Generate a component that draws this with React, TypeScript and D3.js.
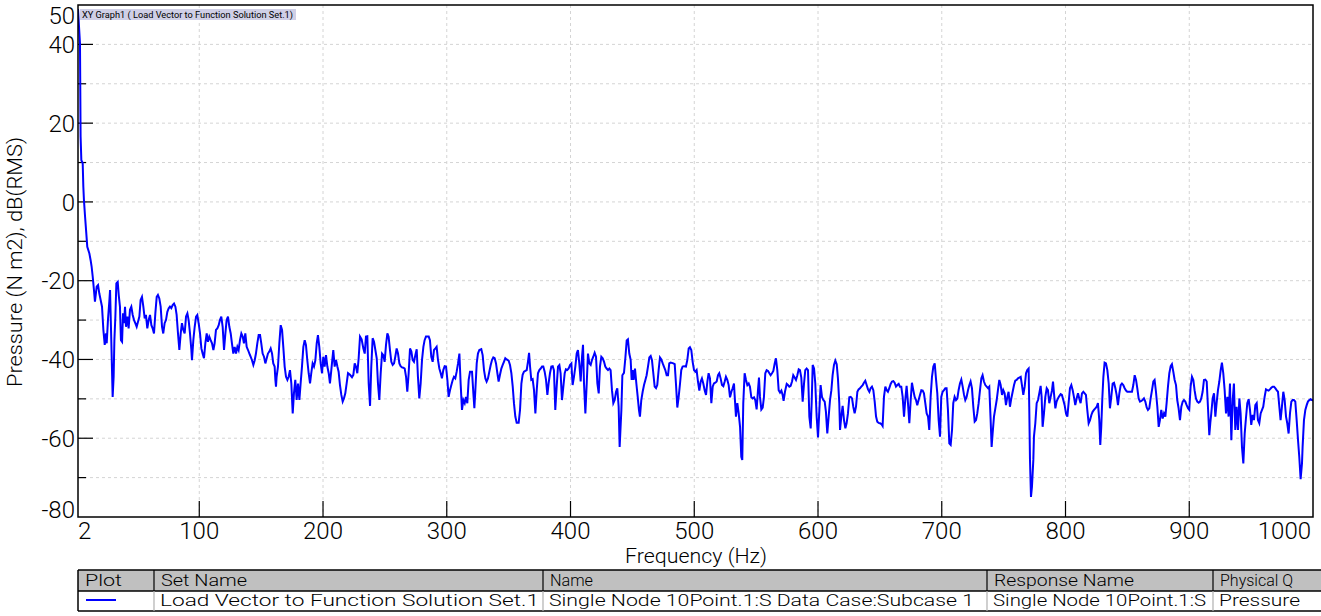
import React from 'react';
import * as d3 from 'd3';

// [frequency Hz, pressure dB(RMS)]
const spectrum: [number, number][] = [
[2,49],[3.6,40.3],[4.1,16.6],[4.7,10.6],[5.8,9.8],[6.3,3.9],[6.8,0.5],[7.7,-3.7],[8.5,-7.1],[9.5,-11.4],[11.2,-13.1],[12.2,-14.8],[13,-16.4],[13.9,-19],[14.9,-22.4],[15.7,-25.3],[17.1,-21.5],[18.2,-21.1],[19.2,-23.2],[20.3,-24.9],[21.4,-26.6],[22.5,-32.5],[23.6,-36.3],[24.6,-33.4],[25.2,-35.9],[26.2,-30],[27.3,-25.3],[27.9,-22.4],[28.9,-35.1],[30,-49.5],[30.8,-44.4],[31.4,-35.1],[32.2,-29.1],[33,-20.7],[34.1,-20.3],[34.9,-23.6],[35.9,-26.6],[36.7,-35.1],[37.6,-35.5],[38.4,-28.3],[39.2,-30.8],[40,-26.6],[40.8,-31.7],[41.9,-29.1],[42.9,-32.1],[44,-27.4],[45.1,-26.6],[46.2,-28.7],[47.3,-30],[48.3,-30.8],[49.4,-31.7],[50.5,-30.4],[51.6,-29.1],[52.6,-24.9],[53.7,-24.1],[54.8,-26.6],[55.9,-29.6],[56.9,-28.7],[58,-32.1],[59.1,-30],[60.2,-28.7],[61.3,-31.3],[62.3,-32.1],[63.4,-33.4],[64.5,-28.3],[65.6,-24.1],[66.6,-23.6],[67.7,-24.5],[68.8,-26.6],[69.9,-31.7],[70.9,-33.4],[72,-30.8],[73.1,-30],[74.2,-27.9],[75.3,-27],[76.3,-26.6],[77.4,-27],[78.5,-26.2],[79.6,-25.8],[80.7,-26.6],[81.7,-28.7],[82.8,-33.4],[83.9,-37.6],[85,-33.4],[86,-30.8],[87.1,-32.5],[88.2,-33.4],[89.3,-29.1],[90.4,-28.3],[91.4,-30],[92.5,-33.4],[93.6,-37.6],[94.1,-40.2],[95.2,-35.1],[96.3,-31.7],[97.4,-29.1],[98.4,-28.7],[99.5,-30.8],[100.6,-33.4],[101.7,-37.2],[102.7,-38.5],[103.8,-39.7],[104.9,-35.9],[106,-33.4],[107,-35.5],[108.1,-34.2],[109.2,-35.1],[110.3,-35.9],[111.4,-37.6],[112.4,-35.9],[113.5,-32.5],[114.6,-32.1],[115.7,-31.3],[116.7,-30],[117.8,-29.1],[118.9,-31.7],[120,-37.6],[121.1,-33.4],[122.1,-30],[123.2,-29.1],[124.3,-31.7],[125.4,-33.4],[126.4,-35.9],[127.5,-38.5],[128.6,-36.8],[129.7,-38.5],[130.8,-36.8],[131.8,-37.6],[132.9,-35.1],[134,-33.4],[135.1,-34.2],[136.1,-35.9],[137.2,-33.4],[138.3,-36.8],[139.4,-37.6],[140.5,-38.5],[141.5,-39.3],[142.6,-40.2],[143.7,-41.4],[144.8,-40.2],[145.8,-38.5],[146.9,-35.9],[148,-33.8],[149.1,-33.8],[150.1,-35.9],[151.2,-38.5],[152.3,-39.3],[153.4,-41],[154.5,-39.7],[155.5,-38.5],[156.6,-38],[157.7,-37.2],[158.8,-38.5],[159.8,-41],[160.9,-41.8],[161.5,-45.2],[162,-46.9],[162.5,-44.4],[163.6,-41.8],[164.7,-35.9],[165.8,-31.3],[166.9,-32.5],[167.9,-36.8],[169,-41.8],[170.1,-44.4],[171.2,-45.2],[172.2,-44.4],[173.3,-42.7],[174.4,-46.1],[175.5,-53.7],[176.5,-48.6],[177.6,-45.2],[178.7,-50.3],[179.8,-46.1],[180.9,-50.3],[181.9,-46.1],[183,-41.8],[184.1,-36.8],[185.2,-35.1],[186.2,-36.3],[187.3,-40.2],[188.4,-43.5],[189.5,-46.1],[190.5,-43.5],[191.6,-41],[192.7,-41.8],[193.8,-40.2],[194.9,-35.9],[195.9,-33.8],[197,-36.8],[198.1,-41],[199.2,-43.5],[200.2,-39.3],[201.3,-41.8],[202.4,-38.9],[203.5,-41.8],[204.6,-43.5],
[205.6,-46.1],[206.7,-42.7],[207.5,-40.1],[208.3,-37.6],[209.4,-41.8],[210.5,-40.1],[211.6,-41.8],[212.6,-43.1],[213.7,-46.5],[214.8,-49],[215.9,-50.7],[216.9,-49.9],[218,-48.6],[219.1,-46.1],[220.2,-43.5],[221.8,-43.9],[223.4,-44.5],[224.5,-43.9],[225.6,-41],[226.6,-41.8],[227.7,-43.5],[228.8,-39.7],[229.9,-34.2],[231.2,-34.9],[232.6,-37.2],[233.7,-38.5],[234.7,-34.2],[235.8,-34.1],[236.9,-46.1],[238,-51.8],[239,-41.8],[240.1,-34.6],[241.2,-35.5],[242.3,-37.6],[243.4,-39.7],[244.4,-46.1],[245.5,-50.3],[246.6,-43.5],[247.7,-38.5],[248.7,-38.9],[249.8,-40.6],[250.9,-36.3],[252,-33.4],[253,-34.2],[254.1,-37.6],[255.2,-40.6],[256.3,-41.4],[257.4,-41],[258.4,-39.3],[259.5,-37.2],[260.6,-38.5],[261.7,-41],[262.7,-41.7],[263.8,-42],[264.9,-42.1],[266,-42.3],[267.1,-44.4],[268.1,-48.2],[269.2,-43.5],[270.3,-37.2],[271.4,-38],[272.4,-40.1],[273.5,-40.6],[274.6,-38.9],[275.7,-37.4],[276.7,-44.4],[277.8,-49.9],[278.9,-46.1],[280,-40.1],[281.1,-36.8],[282.1,-35.1],[283.2,-34.2],[285.4,-34.2],[286.4,-35.1],[287.5,-39.3],[288.6,-40.6],[289.7,-37.6],[290.8,-37.2],[291.8,-36.8],[292.9,-40.1],[294,-42.3],[295.1,-43.5],[296.1,-44.8],[297.2,-42.7],[298.3,-41.7],[299.4,-41.8],[300.5,-45.2],[301.5,-49.5],[302.6,-47.8],[303.7,-46.5],[304.8,-45.2],[305.8,-44.4],[306.9,-44.8],[308,-43.1],[309.1,-41],[310.2,-38.5],[311.2,-46.1],[312.3,-52.8],[313.4,-50.3],[314.5,-51.1],[315.5,-49.5],[316.6,-51.1],[317.7,-45.2],[318.8,-43.1],[320.4,-43.1],[321.5,-48.6],[322.3,-52.4],[323.1,-47.8],[324.2,-41],[325.2,-38.5],[326.3,-37.6],[327.9,-37.4],[329,-38.9],[330.1,-42.7],[331.2,-44.8],[332.2,-45.6],[333.3,-44.8],[334.4,-43.1],[335.5,-41.4],[336.6,-40.1],[337.6,-39.5],[338.7,-39.7],[339.8,-41],[340.9,-43.5],[341.9,-45.6],[343,-43.9],[344.1,-42.3],[345.2,-41.4],[346.2,-40.6],[347.3,-39.7],[348.4,-40],[350,-40.3],[351.1,-41.4],[352.2,-43.5],[353.3,-46.9],[354.3,-51.1],[355.4,-54.5],[356.5,-56.1],[358.1,-56.1],[359.2,-52.8],[360.3,-46.1],[361.3,-43.9],[362.4,-43.1],[363.5,-42.9],[364.6,-42.7],[365.6,-40.6],[366.5,-38.3],[367.3,-41.8],[368.3,-45.2],[369.4,-45],[370.5,-47.8],[371.6,-53.7],[372.7,-47.8],[373.7,-43.5],[374.8,-42.7],[375.9,-42.3],[377,-41.8],[378,-41.8],[379.1,-43.1],[380.2,-45.2],[381.3,-49],[382.3,-46.1],[383.4,-43.5],[384.5,-41.8],[385.6,-41.7],[386.6,-42.7],[387.7,-52.8],[388.8,-46.9],[389.9,-41.8],[391,-41.4],[392,-43.5],[393.1,-50.3],[394.2,-46.9],[395.3,-43.5],[396.3,-42.5],[397.4,-42.7],[398.5,-42.3],[399.6,-41.4],[400.7,-41],[401.7,-46.5],[402.8,-44.4],[403.9,-41.8],[405,-38.5],[406,-37.6],[407.1,-41],[408.2,-45.6],[409.3,-39.3],[410.1,-36.3],[410.9,-46.1],[412,-53.7],[413.1,-46.1],[414.1,-38.5],[415.2,-41],[416.3,-41.4],[417.4,-40.1],[418.4,-39.3],[419.5,-38.3],[420.6,-39.3],[421.7,-46.1],[422.8,-48.6],[423.8,-41.8],[424.9,-39.3],[426,-39.7],[427.1,-40.6],[428.1,-41.8],[429.2,-42.3],[430.3,-42.7],[431.4,-42.3],[432.4,-42.7],[433.5,-47.8],[434.6,-51.1],[435.7,-50.3],[436.8,-48.2],[437.8,-47.3],[438.9,-52],[439.7,-62.2],
[441.1,-52.8],[441.9,-44],[443.2,-43.4],[444.3,-39.7],[445.4,-35.2],[446.4,-34.9],[447.5,-38.5],[448.6,-40.1],[449.4,-45.2],[450.2,-42.7],[451,-45.2],[452.1,-42.3],[453.2,-46.1],[454.3,-49.5],[455.3,-52.8],[456.1,-54.5],[457.2,-50.3],[458.3,-48.2],[459.4,-46.5],[460.5,-45.2],[461.5,-44],[462.6,-41.8],[463.7,-39.5],[464.8,-39.1],[465.8,-40.1],[466.9,-43.5],[468,-46.9],[469.1,-47.3],[470.1,-46.5],[471.2,-42.7],[472.3,-39.5],[473.4,-40],[474.5,-41],[475.5,-41.8],[476.6,-42.7],[477.7,-44],[478.8,-44],[479.8,-41],[480.9,-40.8],[483.1,-41],[484.2,-41.2],[485.2,-46.1],[486.3,-52.2],[487.4,-49.5],[488.5,-46.1],[489.5,-42.7],[490.6,-41.8],[491.7,-41.7],[493.3,-41.8],[494.4,-40.1],[495.5,-37.2],[496.5,-36.9],[497.6,-37.6],[498.7,-40.6],[499.8,-42.7],[500.9,-43.1],[501.9,-42.7],[503,-45.6],[504.1,-47.9],[505.2,-45.6],[506.2,-44.8],[507.3,-46.1],[508.4,-47.8],[509.5,-49],[510.6,-45.6],[511.6,-43.5],[512.7,-44.8],[513.8,-51.1],[514.9,-46.9],[515.9,-46.1],[517,-45.9],[518.1,-45.6],[519.2,-44],[520.2,-43.5],[521.3,-44.8],[522.4,-46.5],[523.5,-46.8],[524.6,-45.6],[525.6,-44.4],[526.7,-45.2],[527.8,-46.5],[528.9,-49.6],[530,-48.2],[531,-47.3],[532.1,-46.1],[532.6,-49],[533.7,-54.5],[534.8,-51.1],[535.9,-53.7],[537,-57.1],[538,-64.7],[538.8,-65.5],[539.6,-51.1],[540.7,-43.5],[541.8,-45.2],[542.9,-46.5],[544,-46.1],[545,-46.9],[546.1,-49.6],[547.2,-49.9],[548.3,-49.6],[549.3,-50.3],[550.4,-52.7],[551.5,-47.8],[552.3,-44.6],[553.1,-49.5],[554.2,-52.7],[555.3,-52.2],[556.3,-49.6],[557.4,-43.5],[558.5,-42.7],[559.6,-42.9],[560.7,-43.5],[561.7,-44],[562.8,-43.5],[563.9,-42.9],[565,-41],[566,-39.7],[567.1,-42.7],[568.2,-47.8],[569.3,-48.4],[570.4,-47.9],[571.4,-49],[572.2,-50.5],[573.3,-48.2],[574.7,-46.2],[575.7,-46.5],[576.8,-46.9],[577.9,-46.7],[579,-45.6],[580,-44],[581.1,-44.6],[582.2,-45.2],[583.3,-44],[584.4,-42.5],[585.4,-42.7],[586.5,-44.6],[587.6,-50.7],[588.7,-46.1],[589.7,-42.7],[590.8,-42.3],[591.9,-42.7],[593,-54.5],[594.1,-57.5],[594.9,-50.7],[595.7,-41.4],[596.8,-42.3],[597.8,-46.1],[598.9,-54.5],[600,-59.8],[601.1,-52.8],[602.1,-46.5],[603.2,-49.5],[604.3,-50.3],[605.4,-50.7],[606.4,-53.3],[607.5,-58.8],[608.6,-54.5],[609.7,-50.3],[610.8,-47.8],[611.8,-44],[612.9,-41.4],[614,-40.3],[615.1,-41.2],[616.1,-44.8],[617.2,-51.1],[617.8,-57.9],[618.8,-54.5],[619.9,-51.8],[621,-55.4],[622.1,-57.5],[623.1,-56.2],[624.2,-53.7],[625.3,-49.6],[626.4,-49.5],[627.5,-49.9],[628.5,-52],[629.6,-53.7],[630.7,-52],[631.8,-48.2],[632.8,-47.6],[633.9,-47.3],[635,-46.9],[636.1,-46.5],[637.1,-45.9],[638.2,-45.4],[639.3,-46.5],[640.4,-47.6],[641.5,-48.2],[642.5,-47.3],[643.6,-46.9],[644.7,-47.8],[645.8,-50.7],[646.9,-54.5],[647.9,-55.8],[649,-56.1],[650.1,-56.2],[651.2,-56.4],[652.2,-56.9],[653.3,-49.5],[654.4,-46.9],[655.5,-47.8],[656.5,-48.2],[657.6,-47.3],[658.7,-46.2],[659.8,-45.6],[660.9,-45.5],[661.9,-45.9],[663,-46.9],[664.1,-46.5],[665.2,-46.2],[666.2,-46.9],
[667.3,-46.9],[668.4,-49.5],[669.5,-54.5],[670.5,-50.3],[671.6,-46.7],[672.7,-51.1],[673.8,-56.2],[674.9,-50.3],[675.9,-45.9],[677,-47.8],[678.1,-49.5],[679.2,-50.3],[680.2,-51.6],[681.3,-50.3],[682.4,-49],[683.5,-47.8],[684.6,-47.9],[685.6,-48.6],[686.7,-51.1],[687.8,-53.7],[688.9,-54.5],[689.9,-57.9],[691,-49.5],[692.1,-44.4],[693.2,-41.8],[694.3,-41],[695.3,-44.8],[696.4,-48.6],[697.5,-55.4],[698.6,-59.6],[699.6,-49.5],[700.7,-48.2],[701.8,-47.8],[702.9,-47.3],[703.9,-47.3],[705,-52.8],[706.1,-61.3],[707.2,-61.7],[708.3,-57.9],[709.3,-51.1],[710.4,-49.5],[711.5,-50.3],[712.6,-49.9],[713.6,-47.8],[714.7,-46.1],[715.8,-45.1],[716.9,-46.9],[718,-49],[719,-50.3],[720.1,-49.5],[721.2,-47.8],[722.3,-46.5],[723.3,-45.6],[724.4,-47.3],[725.5,-52],[726.6,-55.8],[727.7,-55.4],[728.7,-53.7],[729.8,-51.1],[730.9,-47.8],[732,-44.8],[733,-44],[734.1,-45.6],[735.2,-46.5],[736.3,-46.9],[737.4,-47.3],[738.4,-46.9],[739.5,-55.4],[740.3,-62.2],[741.1,-58.8],[742.2,-54.5],[743.3,-52.4],[744.4,-50.3],[745.4,-47.8],[746.5,-45.2],[747.6,-46.5],[748.7,-49],[749.7,-47.8],[750.8,-48.6],[751.9,-51.6],[753,-49.5],[754,-48.2],[755.1,-52],[756.2,-49.9],[757.3,-48.2],[758.4,-46.5],[759.4,-45.4],[760.5,-45.2],[761.6,-44.8],[762.7,-44.6],[763.8,-44.4],[764.8,-46.5],[765.9,-49],[767,-46.9],[768.1,-43.5],[769.1,-42.7],[770.2,-42.3],[770.7,-52],[771.3,-65.5],[772.1,-74.9],[772.9,-72.3],[774,-65.5],[774.5,-59.6],[775.6,-56.2],[776.7,-51.1],[777.8,-50.3],[778.8,-48.6],[779.9,-46.7],[780.7,-49.5],[781.5,-57.1],[782.6,-53.7],[783.7,-49.5],[784.8,-47.3],[785.8,-47.8],[786.9,-51.1],[788,-49.5],[789.1,-47.8],[789.9,-45.6],[790.7,-48.6],[791.8,-52.4],[792.8,-50.7],[793.9,-49.9],[795,-49.3],[796.1,-48.8],[797.1,-49],[798.2,-50.3],[799.3,-51.6],[800.4,-53.7],[801.5,-54.5],[802.5,-51.1],[803.6,-47.3],[804.7,-46.5],[805.8,-47.8],[806.8,-49.5],[807.9,-51.6],[809,-49.9],[810.1,-48.6],[811.1,-49.9],[812.2,-51.1],[813.3,-48.6],[814.4,-48.2],[815.5,-48.6],[816.5,-49],[817.6,-52.8],[818.7,-56.2],[819.8,-55.4],[820.9,-54.1],[821.9,-53.3],[823,-52.8],[824.1,-52.4],[825.2,-52],[826.2,-51.1],[827.3,-55.4],[828.1,-61.7],[828.9,-57.1],[829.7,-50.3],[830.6,-44.4],[831.6,-40.8],[832.7,-41],[833.8,-42.7],[834.9,-46.1],[835.9,-52.4],[837,-49.5],[838.1,-46.1],[839.2,-45.9],[840.3,-47.3],[841.3,-49],[842.4,-51.6],[843.5,-48.6],[844.6,-46.5],[845.6,-46.1],[846.7,-46.5],[847.8,-47.3],[848.9,-47.9],[849.9,-48.2],[852.1,-48.2],[853.7,-48.2],[854.8,-46.5],[855.9,-44],[857,-45.2],[858,-47.3],[859.1,-49.9],[860.2,-50.7],[861.3,-50.5],[862.3,-50.3],[863.4,-49.9],[864.5,-50.7],[865.6,-52.2],[866.6,-52.8],[867.7,-52.4],[868.8,-49.9],[869.9,-47.8],[871,-45.6],[872,-45.2],[873.1,-48.2],[874.2,-52],[875.3,-57.1],[876.3,-55.4],[877.4,-52.8],[878.5,-55],[879.6,-53.7],[880.7,-54.5],[881.7,-51.1],[882.8,-46.9],[883.9,-43.5],[885,-41.7],[886,-41.2],[887.1,-43.1],[888.2,-45.2],[889.3,-46.5],[890.3,-50.3],[891.4,-52.4],[892.5,-55.4],[893.6,-52],[894.7,-50.7],[895.7,-50.3],[896.8,-50.7],[897.9,-51.6],[899,-52.4],[900,-52.8],[901.1,-46.9],[902.2,-44.4],[903.3,-45.2],[904.3,-47.8],[905.4,-49.9],[906.5,-50.7],[907.6,-51],[908.7,-50.7],[909.7,-49.9],[910.8,-48.2],[911.9,-45.2],[913,-45.1],[914.1,-45.6],[915.1,-52],[916.2,-59.2],[917,-56.2],[917.8,-53.7],[918.9,-49.9],[920,-48.6],[921.1,-54.5],[922.1,-51.1],[923.2,-47.8],[924.3,-45.6],[925.4,-42.7],[926.4,-40.8],[927.5,-43.5],[928.6,-47.8],[929.7,-53.7],[930.8,-49.5],[931.8,-54.5],[932.9,-46.1],[934,-60.5],[935.1,-50.3],[936.1,-46.1],[937.2,-57.9],[938.3,-52],[939.4,-57.9],[940.5,-49.9],[941.5,-53.7],[942.6,-62.2],[943.7,-66.4],[944.8,-58.8],[945.8,-55],[946.9,-51.1],[948,-50.1],[949.1,-52.8],[950.1,-56.6],[951.2,-54.1],[952.3,-55.4],[953.4,-51.6],[954.5,-51.1],[955.5,-55.4],[956.6,-56.2],[957.7,-53.7],[958.8,-52.8],[959.8,-52],[960.9,-49.5],[962,-47.6],[963.1,-47.8],[964.1,-47.9],[965.2,-47.6],[966.3,-47.2],[967.4,-46.9],[968.5,-46.9],[969.5,-47.3],[970.6,-47.8],[971.7,-48.2],[972.8,-52],[973.8,-55.4],[974.9,-52],[976,-48.2],[977.1,-50.3],[978.2,-54.5],[979.2,-56.2],[980.3,-58.8],[981.4,-53.7],[982.5,-50.7],[983.5,-50.3],[984.6,-50.3],[985.7,-50.7],[986.8,-55.4],[987.9,-60.5],[988.9,-64.7],[990,-70.4],[991.1,-66.4],[991.6,-62.2],[992.7,-55.4],[993.8,-52.8],[994.9,-51.6],[995.9,-50.7],[997,-50.3],[998.1,-50.1],[999.2,-50.3],[1000,-50.5]
];

const xTickValues = [100, 200, 300, 400, 500, 600, 700, 800, 900];
const xLabelValues = [2, 100, 200, 300, 400, 500, 600, 700, 800, 900, 1000];
const yLabelValues = [50, 40, 20, 0, -20, -40, -60, -80];
const yGridValues = [40, 30, 20, 10, 0, -10, -20, -30, -40, -50, -60, -70];
const yMajorTicks = [40, 20, 0, -20, -40, -60];

const titleText = 'XY Graph1 ( Load Vector to Function Solution Set.1)';
const xAxisTitle = 'Frequency (Hz)';
const yAxisTitle = 'Pressure (N m2), dB(RMS)';

const tableHeaders = ['Plot', 'Set Name', 'Name', 'Response Name', 'Physical Q'];
const tableValues = ['', 'Load Vector to Function Solution Set.1', 'Single Node 10Point.1:S   Data Case:Subcase 1', 'Single Node 10Point.1:S', 'Pressure'];

const W = 1321, H = 616;
const PL = 78, PR = 1313, PT = 5, PB = 517;
const FONT = 'Roboto, "DejaVu Sans", sans-serif';

export default function App() {
  const x = d3.scaleLinear().domain([2, 1000]).range([PL, PR]);
  const y = d3.scaleLinear().domain([-80, 50]).range([PB, PT]);
  const line = d3.line<[number, number]>().x(d => x(d[0])).y(d => y(d[1]));

  const colX = [78, 154, 543, 987, 1213];
  const headerW = [37, 86, 43, 140, 100];
  const valueW = [0, 379, 425, 213, 81];
  const tTop = 570, tMid = 591, tBot = 611;

  return (
    <svg width={W} height={H} style={{ position: 'absolute', left: 0, top: 0, background: '#fff' }} fontFamily={FONT}>
      <defs>
        <clipPath id="plotclip"><rect x={PL} y={PT} width={PR - PL} height={PB - PT} /></clipPath>
      </defs>
      {/* grid */}
      {yGridValues.map(v => (
        <line key={'gy' + v} x1={PL} x2={PR} y1={y(v)} y2={y(v)} stroke="#d4d4d4" strokeDasharray="3,3" strokeWidth={1} />
      ))}
      {xTickValues.map(v => (
        <line key={'gx' + v} x1={x(v)} x2={x(v)} y1={PT} y2={PB} stroke="#d4d4d4" strokeDasharray="3,3" strokeWidth={1} />
      ))}
      {/* ticks */}
      {yGridValues.map(v => (
        <line key={'ty' + v} x1={PL} x2={PL + (yMajorTicks.includes(v) ? 15 : 8)} y1={y(v)} y2={y(v)} stroke="#000" strokeWidth={1.2} />
      ))}
      {xTickValues.map(v => (
        <line key={'tx' + v} x1={x(v)} x2={x(v)} y1={PB} y2={PB - 16} stroke="#000" strokeWidth={1.2} />
      ))}
      {/* title box */}
      <rect x={80} y={9} width={216} height={11} fill="#cfcfe6" />
      <text x={82} y={18} fontSize={9} fill="#000" textLength={211} lengthAdjust="spacingAndGlyphs">{titleText}</text>
      {/* data line */}
      <path d={line(spectrum) || ''} fill="none" stroke="#0000ff" strokeWidth={2} clipPath="url(#plotclip)" strokeLinejoin="miter" />
      {/* frame */}
      <rect x={PL} y={PT} width={PR - PL} height={PB - PT} fill="none" stroke="#000" strokeWidth={1.5} />
      {/* y labels */}
      {yLabelValues.map(v => {
        let cy = y(v);
        if (v === 50) cy = 15;
        if (v === -80) cy = 509;
        return (
          <text key={'ly' + v} x={75} y={cy} dy="0.36em" textAnchor="end" fontSize={24} fontWeight={300} fill="#000">{String(v)}</text>
        );
      })}
      {/* x labels */}
      {xLabelValues.map(v => {
        let anchor: 'start' | 'middle' | 'end' = 'middle';
        let px = x(v);
        if (v === 2) { anchor = 'start'; px = PL; }
        if (v === 1000) { anchor = 'end'; px = 1311; }
        return (
          <text key={'lx' + v} x={px} y={539} textAnchor={anchor} fontSize={24} fontWeight={300} fill="#000">{String(v)}</text>
        );
      })}
      <text x={696} y={563} textAnchor="middle" fontSize={20} fontWeight={300} textLength={142} lengthAdjust="spacingAndGlyphs">{xAxisTitle}</text>
      <text transform="translate(22,262) rotate(-90)" textAnchor="middle" fontSize={20} fontWeight={300} textLength={250} lengthAdjust="spacingAndGlyphs">{yAxisTitle}</text>
      {/* table */}
      <rect x={78} y={tTop} width={W - 78} height={tMid - tTop} fill="#c0c0c0" />
      <line x1={78} x2={W} y1={tTop} y2={tTop} stroke="#000" strokeWidth={1.5} />
      <line x1={78} x2={W} y1={tMid} y2={tMid} stroke="#000" strokeWidth={1.5} />
      <line x1={78} x2={W} y1={tBot} y2={tBot} stroke="#000" strokeWidth={1.5} />
      <line x1={78} x2={78} y1={tTop} y2={tBot} stroke="#000" strokeWidth={1.5} />
      {colX.slice(1).map(cx => (
        <g key={'col' + cx}>
          <line x1={cx} x2={cx} y1={tTop} y2={tMid} stroke="#000" strokeWidth={1.2} />
          <line x1={cx} x2={cx} y1={tMid} y2={tBot} stroke="#b0b0b0" strokeWidth={1.2} />
        </g>
      ))}
      {tableHeaders.map((h, i) => (
        <text key={'th' + i} x={colX[i] + 7} y={586} fontSize={16} fontWeight={300}
          textLength={i === 4 ? undefined : headerW[i]} lengthAdjust="spacingAndGlyphs">{h}</text>
      ))}
      {tableValues.map((v, i) => i === 0 ? (
        <line key={'tv' + i} x1={86} x2={116} y1={600} y2={600} stroke="#0000ff" strokeWidth={2} />
      ) : (
        <text key={'tv' + i} x={colX[i] + 6} y={606} fontSize={16} fontWeight={300}
          textLength={valueW[i]} lengthAdjust="spacingAndGlyphs">{v}</text>
      ))}
    </svg>
  );
}
